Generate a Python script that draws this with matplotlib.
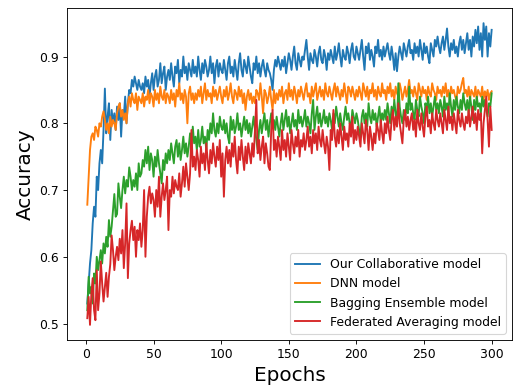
import matplotlib
matplotlib.use("Agg")
import matplotlib.pyplot as plt
import numpy as np

# accuracy per epoch (per-mille)
collab = [
    530, 560, 590, 610, 650, 675, 660, 720, 700, 740, 760, 740, 790, 852, 785, 810, 830, 775, 820, 800,
    815, 790, 825, 805, 830, 780, 820, 810, 840, 800, 830, 850, 845, 865, 855, 870, 860, 850, 865, 855,
    850, 860, 845, 870, 855, 865, 840, 860, 875, 850, 870, 880, 855, 865, 890, 860, 875, 885, 850, 870,
    880, 865, 890, 870, 855, 885, 875, 895, 860, 880, 870, 900, 875, 885, 865, 890, 880, 870, 895, 875,
    885, 870, 900, 880, 865, 890, 875, 895, 885, 870, 880, 900, 875, 890, 860, 885, 895, 870, 890, 880,
    875, 895, 880, 865, 890, 900, 875, 885, 870, 895, 880, 865, 890, 905, 880, 870, 895, 885, 875, 900,
    885, 870, 860, 890, 880, 900, 875, 890, 870, 885, 895, 880, 870, 890, 880, 875, 865, 850, 880, 895,
    885, 900, 890, 880, 895, 885, 900, 875, 890, 905, 895, 880, 900, 915, 890, 880, 905, 895, 885, 900,
    895, 910, 925, 900, 880, 905, 895, 890, 910, 900, 885, 905, 915, 895, 890, 910, 900, 880, 905, 895,
    910, 900, 890, 915, 895, 905, 920, 900, 885, 910, 900, 895, 915, 905, 890, 910, 920, 900, 895, 915,
    905, 895, 910, 925, 900, 880, 915, 905, 920, 895, 910, 900, 885, 915, 905, 925, 900, 910, 895, 915,
    900, 910, 920, 905, 895, 915, 900, 880, 905, 878, 900, 915, 905, 895, 920, 910, 900, 915, 925, 905,
    910, 895, 920, 905, 915, 900, 925, 910, 895, 920, 905, 915, 900, 890, 920, 910, 900, 925, 915, 930,
    915, 905, 920, 930, 910, 925, 942, 915, 900, 920, 910, 925, 905, 915, 900, 920, 930, 910, 925, 905,
    920, 935, 910, 925, 900, 930, 915, 940, 920, 945, 910, 935, 900, 950, 925, 945, 900, 935, 915, 940,
]
dnn = [
    678, 720, 760, 780, 785, 775, 795, 790, 780, 800, 795, 810, 818, 805, 790, 800, 785, 810, 795, 805,
    800, 790, 815, 825, 830, 810, 820, 805, 815, 800, 830, 840, 825, 845, 835, 830, 845, 820, 840, 835,
    830, 845, 825, 840, 835, 850, 830, 845, 840, 825, 850, 835, 845, 830, 855, 840, 835, 850, 830, 845,
    840, 830, 850, 835, 845, 825, 850, 840, 860, 835, 845, 830, 850, 840, 800, 845, 855, 835, 845, 830,
    845, 835, 850, 840, 855, 830, 845, 860, 835, 850, 840, 845, 830, 855, 840, 850, 835, 845, 855, 840,
    830, 850, 840, 855, 835, 845, 860, 840, 830, 850, 845, 835, 855, 840, 850, 830, 845, 820, 840, 850,
    835, 845, 830, 840, 830, 850, 845, 835, 860, 840, 815, 850, 845, 830, 840, 855, 835, 820, 850, 830,
    845, 835, 850, 840, 855, 830, 845, 850, 835, 860, 840, 850, 835, 855, 845, 830, 850, 840, 855, 845,
    835, 850, 860, 840, 845, 830, 855, 840, 850, 860, 835, 845, 855, 840, 850, 835, 860, 845, 840, 855,
    845, 835, 850, 860, 840, 855, 845, 835, 850, 840, 860, 845, 830, 855, 850, 840, 855, 845, 835, 850,
    840, 855, 845, 835, 860, 850, 840, 855, 835, 850, 845, 860, 840, 850, 835, 855, 845, 840, 860, 845,
    850, 835, 855, 845, 860, 840, 850, 835, 855, 845, 840, 860, 850, 835, 845, 855, 840, 850, 865, 845,
    850, 840, 855, 845, 835, 860, 850, 840, 855, 845, 850, 835, 855, 845, 840, 860, 850, 845, 835, 855,
    845, 850, 840, 855, 845, 860, 840, 850, 835, 855, 845, 850, 840, 835, 855, 845, 850, 860, 868, 845,
    850, 840, 855, 835, 850, 845, 840, 855, 835, 850, 845, 840, 855, 835, 848, 840, 850, 835, 845, 848,
]
bagging = [
    520, 570, 545, 555, 530, 575, 560, 600, 580, 595, 610, 590, 620, 605, 630, 615, 655, 630, 645, 670,
    694, 660, 664, 710, 690, 673, 700, 720, 695, 715, 705, 734, 720, 700, 715, 705, 725, 700, 740, 720,
    725, 745, 735, 760, 740, 765, 730, 755, 745, 720, 750, 735, 760, 740, 725, 710, 745, 730, 755, 740,
    760, 745, 770, 755, 740, 765, 775, 750, 770, 745, 760, 780, 755, 770, 750, 765, 785, 760, 795, 770,
    780, 760, 790, 765, 775, 795, 770, 780, 760, 790, 775, 800, 785, 815, 790, 780, 800, 785, 810, 795,
    790, 805, 785, 800, 780, 770, 810, 790, 805, 785, 795, 815, 790, 800, 780, 795, 810, 790, 805, 785,
    800, 780, 795, 810, 790, 775, 760, 790, 805, 785, 800, 815, 790, 805, 780, 800, 815, 795, 805, 790,
    810, 795, 780, 800, 815, 790, 805, 820, 795, 810, 785, 800, 815, 795, 805, 790, 820, 800, 810, 795,
    805, 820, 795, 810, 800, 785, 815, 835, 790, 810, 825, 800, 815, 795, 805, 820, 800, 810, 795, 815,
    805, 790, 815, 800, 825, 810, 795, 815, 800, 790, 810, 825, 805, 815, 800, 795, 820, 810, 800, 815,
    805, 790, 780, 810, 820, 800, 815, 795, 830, 810, 800, 820, 805, 815, 795, 810, 825, 800, 815, 805,
    820, 805, 830, 815, 800, 825, 810, 835, 815, 800, 860, 825, 810, 800, 820, 805, 830, 815, 855, 820,
    830, 815, 805, 835, 820, 810, 840, 825, 815, 800, 830, 820, 840, 815, 830, 810, 825, 840, 820, 830,
    815, 835, 825, 810, 840, 820, 830, 815, 845, 825, 810, 835, 820, 840, 825, 815, 835, 820, 845, 830,
    820, 835, 815, 840, 825, 805, 835, 820, 840, 825, 830, 815, 840, 825, 835, 820, 810, 830, 825, 845,
]
fedavg = [
    508, 540, 498, 545, 568, 520, 505, 580, 520, 545, 593, 560, 533, 555, 576, 540, 570, 589, 632, 610,
    580, 600, 615, 595, 627, 605, 640, 583, 620, 680, 568, 620, 640, 654, 625, 645, 600, 640, 625, 650,
    615, 640, 700, 600, 660, 690, 705, 680, 695, 685, 660, 700, 675, 720, 660, 690, 710, 685, 700, 720,
    640, 700, 690, 720, 695, 715, 705, 700, 725, 690, 710, 735, 705, 740, 720, 700, 725, 790, 735, 750,
    730, 760, 745, 720, 765, 740, 755, 730, 770, 745, 725, 760, 740, 770, 750, 735, 765, 745, 775, 720,
    755, 690, 745, 765, 740, 760, 735, 770, 750, 780, 745, 725, 765, 745, 775, 750, 730, 765, 740, 770,
    755, 740, 770, 750, 790, 835, 755, 775, 745, 765, 780, 740, 770, 755, 735, 730, 790, 820, 760, 775,
    750, 780, 765, 745, 790, 760, 775, 750, 785, 765, 745, 790, 770, 755, 780, 765, 790, 750, 775, 765,
    785, 760, 775, 795, 765, 780, 755, 790, 770, 785, 760, 795, 775, 765, 790, 770, 755, 780, 765, 730,
    790, 775, 820, 780, 765, 790, 770, 800, 780, 760, 795, 775, 785, 765, 800, 780, 810, 770, 790, 775,
    795, 780, 765, 800, 785, 770, 805, 790, 760, 795, 780, 760, 785, 770, 800, 790, 775, 805, 785, 770,
    800, 785, 810, 790, 775, 805, 820, 790, 810, 795, 830, 800, 785, 770, 805, 820, 795, 810, 790, 805,
    815, 790, 805, 780, 820, 800, 790, 815, 795, 780, 810, 825, 795, 805, 785, 815, 800, 790, 820, 805,
    795, 815, 800, 785, 820, 805, 790, 825, 800, 810, 790, 815, 800, 785, 820, 805, 795, 815, 800, 790,
    810, 800, 820, 795, 810, 825, 800, 815, 790, 820, 805, 815, 755, 800, 820, 840, 805, 765, 825, 790,
]
labels = ["Our Collaborative model", "DNN model", "Bagging Ensemble model",
          "Federated Averaging model"]

fig = plt.figure(figsize=(6.45, 4.8125), dpi=80)
ax = fig.add_axes([0.130, 0.117, 0.862, 0.862])

for series, name in zip([collab, dnn, bagging, fedavg], labels):
    acc = np.array(series) / 1000
    epochs = np.arange(1, len(acc) + 1)
    ax.plot(epochs, acc, label=name, lw=1.7)

ax.set_xlabel("Epochs", fontsize=18)
ax.set_ylabel("Accuracy", fontsize=18)
ax.set_yticks([0.5, 0.6, 0.7, 0.8, 0.9])
ax.tick_params(labelsize=11.2, length=4)
ax.legend(loc="lower right", fontsize=11.2)

fig.savefig("out.png", dpi=80)
